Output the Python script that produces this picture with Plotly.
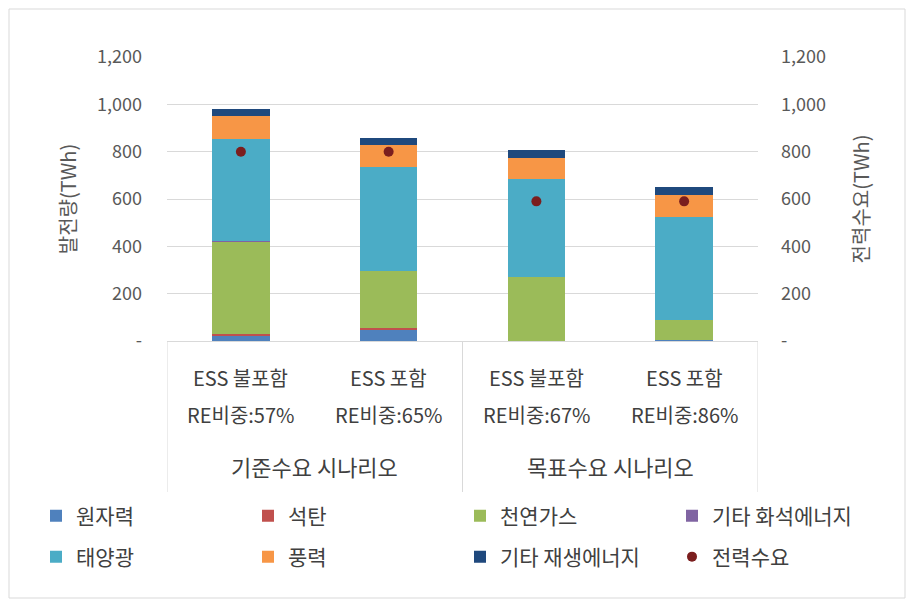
import plotly.graph_objects as go

categories = ["ESS 불포함|RE비중:57%", "ESS 포함|RE비중:65%", "ESS 불포함|RE비중:67%", "ESS 포함|RE비중:86%"]
groups = ["기준수요 시나리오", "목표수요 시나리오"]

nuclear = [25, 50, 0, 5]
coal = [3, 6, 0, 0]
gas = [392, 241, 270, 85]
other_fossil = [2, 0, 0, 0]
solar = [433, 437, 414, 435]
wind = [96, 94, 89, 91]
other_re = [30, 29, 34, 33]
demand = [800, 800, 590, 590]

series = [
    ("원자력", nuclear, "#4F81BD"),
    ("석탄", coal, "#C0504D"),
    ("천연가스", gas, "#9BBB59"),
    ("기타 화석에너지", other_fossil, "#8064A2"),
    ("태양광", solar, "#4BACC6"),
    ("풍력", wind, "#F79646"),
    ("기타 재생에너지", other_re, "#1F497D"),
]
demand_name = "전력수요"

tickvals = [0, 200, 400, 600, 800, 1000, 1200]
ticktext = ["-", "200", "400", "600", "800", "1,000", "1,200"]

FONT = "Noto Sans CJK KR"
GRAY = "#595959"
DARK = "#404040"

W, H = 915, 606
OFF = 8  # page body margin

def fx(page_x):
    return page_x - OFF

def fy(page_y):
    return page_y - OFF

L = fx(167)
R = W - fx(758)
T = fy(57)
B = H - fy(341)
pw, ph = W - L - R, H - T - B

def px(page_x):
    return (fx(page_x) - L) / pw

def py(page_y):
    return (H - B - fy(page_y)) / ph

# legend slots: 4 columns x 2 rows (page coords of the legend box left / row centre)
col_x = [36, 248, 460, 672]
row_y = [516, 557]

fig = go.Figure()
for i, (name, vals, color) in enumerate(series):
    fig.add_trace(go.Bar(
        x=categories, y=vals, name=name, marker=dict(color=color, line=dict(width=0)),
        width=0.39, legend="legend" if i == 0 else f"legend{i + 1}",
    ))
fig.add_trace(go.Scatter(
    x=categories, y=demand, name=demand_name, mode="markers", yaxis="y2",
    marker=dict(color="#7B1E1E", size=10), legend="legend8",
))

legend_common = dict(orientation="h", xref="container", yref="container",
                     xanchor="left", yanchor="middle", itemwidth=30,
                     font=dict(size=21, color=DARK), bgcolor="rgba(0,0,0,0)")

legends = {}
for k in range(8):
    key = "legend" if k == 0 else f"legend{k + 1}"
    cx = col_x[k % 4]
    ry = row_y[k // 4]
    legends[key] = dict(x=fx(cx) / W, y=1 - fy(ry) / H, **legend_common)

fig.update_layout(
    width=W, height=H,
    margin=dict(l=L, r=R, t=T, b=B, autoexpand=False),
    barmode="stack",
    paper_bgcolor="white", plot_bgcolor="white",
    font=dict(family=FONT, size=15, color=GRAY),
    xaxis=dict(type="category", showticklabels=False, showgrid=False, zeroline=False,
               showline=True, linecolor="#d9d9d9", linewidth=1, range=[-0.5, 3.5],
               automargin=False),
    yaxis=dict(range=[0, 1200], tickvals=tickvals, ticktext=ticktext, showgrid=True,
               gridcolor="#d9d9d9", gridwidth=1, zeroline=False, showline=False,
               ticklabelstandoff=24, tickfont=dict(size=18, color=GRAY), automargin=False,
               title=dict(text="발전량(TWh)", font=dict(size=20, color=GRAY), standoff=15)),
    yaxis2=dict(range=[0, 1200], tickvals=tickvals, ticktext=ticktext, overlaying="y",
                side="right", showgrid=False, zeroline=False, showline=False,
                ticklabelstandoff=22, tickfont=dict(size=18, color=GRAY), automargin=False,
                title=dict(text="전력수요(TWh)", font=dict(size=20, color=GRAY), standoff=30)),
    showlegend=True,
    **legends,
)

annotations = []
for c in categories:
    l1, l2 = c.split("|")
    annotations.append(dict(x=c, y=py(377), xref="x", yref="paper", text=l1, showarrow=False,
                            font=dict(size=20, color=DARK), yanchor="middle"))
    annotations.append(dict(x=c, y=py(414), xref="x", yref="paper", text=l2, showarrow=False,
                            font=dict(size=20, color=DARK), yanchor="middle"))
for gi, g in enumerate(groups):
    annotations.append(dict(x=gi * 2 + 0.5, y=py(466), xref="x", yref="paper", text=g, showarrow=False,
                            font=dict(size=22, color=DARK), yanchor="middle"))
fig.update_layout(annotations=annotations)

shapes = []
for xv in [-0.5, 1.5, 3.5]:
    shapes.append(dict(type="line", xref="x", yref="paper", x0=xv, x1=xv, y0=0, y1=py(492),
                       line=dict(color="#d9d9d9", width=1)))
shapes.append(dict(type="rect", xref="paper", yref="paper", x0=px(9), x1=px(905), y0=py(598), y1=py(9),
                   line=dict(color="#d9d9d9", width=1), layer="below"))
fig.update_layout(shapes=shapes)

fig.write_html("out.html")
